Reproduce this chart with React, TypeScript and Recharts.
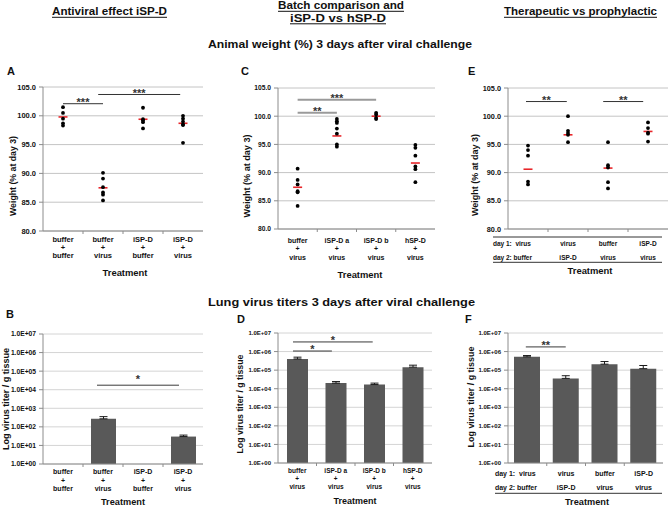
import React from "react";
import {
  ScatterChart,
  Scatter,
  ComposedChart,
  Bar,
  ErrorBar,
  XAxis,
  YAxis,
  CartesianGrid,
  ReferenceLine,
  ReferenceDot,
} from "recharts";

const FONT = '"Liberation Sans", Arial, Helvetica, sans-serif';
const AXIS = "#8c8c8c";
const INK = "#111";

// ---- weight at day 3 (top row) ----
const weightTicks = [80, 85, 90, 95, 100, 105];

const catsA = [
  ["buffer", "+", "buffer"],
  ["buffer", "+", "virus"],
  ["iSP-D", "+", "buffer"],
  ["iSP-D", "+", "virus"],
];
const weightA = [
  [101.5, 100.5, 99.5, 98.7, 98.3],
  [90.1, 89.1, 87.6, 86.7, 86.3, 85.3],
  [101.4, 99.4, 99.2, 98.9, 97.8],
  [100.0, 99.5, 99.0, 98.5, 98.4, 95.3],
];
const meanA = [99.8, 87.5, 99.4, 98.7];
const sigA = [
  { from: 1, to: 2, y: 102.1, text: "***" },
  { from: 1.88, to: 3.93, y: 103.7, text: "***" },
];

const catsC = [
  ["buffer", "+", "virus"],
  ["iSP-D a", "+", "virus"],
  ["iSP-D b", "+", "virus"],
  ["hSP-D", "+", "virus"],
];
const weightC = [
  [90.7, 88.7, 87.9, 86.7, 86.5, 84.1],
  [99.5, 99.1, 98.8, 97.8, 96.9, 95.0, 94.6],
  [100.6, 100.3, 99.7, 99.5],
  [94.9, 94.4, 93.0, 91.1, 90.6, 88.3],
];
const meanC = [87.4, 96.5, 100.0, 91.7];
const sigC = [
  { from: 1, to: 2, y: 100.6, text: "**" },
  { from: 1, to: 3, y: 102.9, text: "***" },
];

const rowLabels = ["day 1:", "day 2:"];
const day1 = ["virus", "virus", "buffer", "iSP-D"];
const day2 = ["buffer", "iSP-D", "virus", "virus"];
const weightE = [
  [94.8, 94.0, 93.0, 88.4, 87.9],
  [100.0, 97.4, 97.0, 96.7, 95.4],
  [95.4, 91.3, 90.9, 88.3, 87.2],
  [98.9, 97.9, 97.1, 96.9, 95.5],
];
const meanE = [90.6, 96.7, 90.8, 97.3];
const sigE = [
  { from: 0.95, to: 1.97, y: 102.6, text: "**" },
  { from: 2.88, to: 3.88, y: 102.6, text: "**" },
];

// ---- lung virus titers (bottom row) ----
const titerTicks = [1, 10, 100, 1e3, 1e4, 1e5, 1e6, 1e7];

const titerB = [null, 270, null, 30];
const titerErrB = [null, 85, null, 6];
const sigB = [{ from: 1.85, to: 3.9, y: 1.75e4, text: "*" }];

const titerD = [4.0e5, 2.0e4, 1.67e4, 1.45e5];
const titerErrD = [1.0e5, 4.3e3, 3.3e3, 4.0e4];
const sigD = [
  { from: 0.89, to: 1.9, y: 1.07e6, text: "*" },
  { from: 0.89, to: 2.96, y: 3.3e6, text: "*" },
];

const titerF = [5.2e5, 3.6e4, 2.1e5, 1.2e5];
const titerErrF = [0.9e5, 1.4e4, 0.8e5, 0.58e5];
const sigF = [{ from: 0.96, to: 1.99, y: 1.78e6, text: "**" }];

type Sig = { from: number; to: number; y: number; text: string };
type Box = { left: number; top: number; width: number; height: number };

const fmtExp = (v: number) =>
  `1.0E+${String(Math.round(Math.log10(v))).padStart(2, "0")}`;

const Dot = (p: any) => <circle cx={p.cx} cy={p.cy} r={1.9} fill="#000" />;
const MeanMark = (p: any) => (
  <line x1={p.cx - 4.5} x2={p.cx + 4.5} y1={p.cy} y2={p.cy} stroke="#e8262a" strokeWidth={1.6} />
);

function stackedTick(cats: string[][], bw: number, size: number, first: number, gap: number) {
  return (p: any) => {
    const lines = cats[p.index] ?? [];
    return (
      <g>
        {p.index < 3 && (
          <line x1={p.x + bw / 2} x2={p.x + bw / 2} y1={p.y} y2={p.y + 3} stroke={AXIS} />
        )}
        <text textAnchor="middle" fontFamily={FONT} fontSize={size} fontWeight={700} fill={INK}>
          {lines.map((l, k) => (
            <tspan key={k} x={p.x} y={p.y + first + k * gap}>
              {l}
            </tspan>
          ))}
        </text>
      </g>
    );
  };
}

function tableTick(bw: number, size: number, r1: number, r2: number, shift: number) {
  return (p: any) => {
    const i = p.index;
    const first = i === 0;
    const common = {
      fontFamily: FONT,
      fontSize: size,
      fontWeight: 700,
      fill: INK,
      textAnchor: first ? "start" : "middle",
      style: { whiteSpace: "pre" },
    } as any;
    const x = first ? p.x + shift : p.x;
    return (
      <g>
        {i < 3 && <line x1={p.x + bw / 2} x2={p.x + bw / 2} y1={p.y} y2={p.y + 3} stroke={AXIS} />}
        <text x={x} y={p.y + r1} {...common}>
          {first ? `${rowLabels[0]}  ${day1[i]}` : day1[i]}
        </text>
        <text x={x} y={p.y + r2} {...common}>
          {first ? `${rowLabels[1]} ${day2[i]}` : day2[i]}
        </text>
      </g>
    );
  };
}

function sigMarks(sigs: Sig[], stroke: string, width: number, dy: number) {
  return [
    ...sigs.map((s, i) => (
      <ReferenceLine
        key={`l${i}`}
        segment={[
          { x: s.from, y: s.y },
          { x: s.to, y: s.y },
        ]}
        stroke={stroke}
        strokeWidth={width}
      />
    )),
    ...sigs.map((s, i) => (
      <ReferenceDot
        key={`t${i}`}
        x={(s.from + s.to) / 2}
        y={s.y}
        shape={(p: any) => (
          <text x={p.cx} y={p.cy + dy} textAnchor="middle" fontFamily={FONT} fontSize={11} fontWeight={700} fill="#333">
            {s.text}
          </text>
        )}
      />
    )),
  ];
}

function WeightPanel(props: {
  box: Box;
  yw: number;
  mr: number;
  mt: number;
  ph: number;
  groups: number[][];
  means: number[];
  sigs: Sig[];
  sigStroke: string;
  sigWidth: number;
  sigDy: number;
  yFont: number;
  tick: (bw: number) => (p: any) => React.ReactElement;
}) {
  const { box, yw, mr, mt, ph } = props;
  const points = props.groups.flatMap((vals, i) => vals.map((w) => ({ g: i + 1, w })));
  const meanPts = props.means.map((w, i) => ({ g: i + 1, w }));
  const bw = (box.width - yw - mr) / 4;
  return (
    <div style={{ position: "absolute", left: box.left, top: box.top }}>
      <ScatterChart width={box.width} height={box.height} margin={{ top: mt, right: mr, left: 0, bottom: 0 }}>
        <CartesianGrid vertical={false} stroke="#c4c4c4" />
        <XAxis
          type="number"
          dataKey="g"
          domain={[0.5, 4.5]}
          allowDataOverflow
          ticks={[1, 2, 3, 4]}
          interval={0}
          height={box.height - mt - ph}
          tickSize={0}
          tickMargin={0}
          tickLine={false}
          stroke={AXIS}
          tick={props.tick(bw)}
        />
        <YAxis
          type="number"
          dataKey="w"
          domain={[80, 105]}
          allowDataOverflow
          ticks={weightTicks}
          interval={0}
          width={yw}
          tickSize={4}
          tickMargin={3}
          stroke={AXIS}
          tickFormatter={(v: number) => v.toFixed(1)}
          tick={{ fontSize: props.yFont, fill: INK, fontWeight: 700, fontFamily: FONT }}
        />
        {sigMarks(props.sigs, props.sigStroke, props.sigWidth, props.sigDy)}
        <Scatter data={meanPts} shape={MeanMark} isAnimationActive={false} />
        <Scatter data={points} shape={Dot} isAnimationActive={false} />
      </ScatterChart>
    </div>
  );
}

function TiterPanel(props: {
  box: Box;
  yw: number;
  mr: number;
  mt: number;
  ph: number;
  values: (number | null)[];
  errs: (number | null)[];
  sigs: Sig[];
  sigDy: number;
  barSize: number;
  yFont: number;
  tick: (bw: number) => (p: any) => React.ReactElement;
}) {
  const { box, yw, mr, mt, ph } = props;
  const rows = props.values.map((v, i) => ({
    pos: i + 1,
    titer: v,
    err: props.errs[i] == null ? null : [0, props.errs[i]],
  }));
  const bw = (box.width - yw - mr) / 4;
  return (
    <div style={{ position: "absolute", left: box.left, top: box.top }}>
      <ComposedChart
        width={box.width}
        height={box.height}
        data={rows}
        barSize={props.barSize}
        margin={{ top: mt, right: mr, left: 0, bottom: 0 }}
      >
        <CartesianGrid vertical={false} stroke="#d4d4d4" />
        <XAxis
          dataKey="pos"
          type="number"
          domain={[0.5, 4.5]}
          allowDataOverflow
          ticks={[1, 2, 3, 4]}
          interval={0}
          height={box.height - mt - ph}
          tickSize={0}
          tickMargin={0}
          tickLine={false}
          stroke={AXIS}
          tick={props.tick(bw)}
        />
        <YAxis
          type="number"
          scale="log"
          domain={[1, 1e7]}
          allowDataOverflow
          ticks={titerTicks}
          interval={0}
          width={yw}
          tickSize={4}
          tickMargin={3}
          stroke={AXIS}
          tickFormatter={fmtExp}
          tick={{ fontSize: props.yFont, fill: INK, fontWeight: 700, fontFamily: FONT }}
        />
        <Bar dataKey="titer" fill="#595959" isAnimationActive={false}>
          <ErrorBar dataKey="err" width={4} stroke="#1a1a1a" strokeWidth={1} direction="y" />
        </Bar>
        {sigMarks(props.sigs, "#3a3a3a", 1, props.sigDy)}
      </ComposedChart>
    </div>
  );
}

function Txt(p: {
  x: number;
  y: number;
  len?: number;
  size: number;
  text: string;
  anchor?: "start" | "middle";
  rotate?: boolean;
  underline?: boolean;
}) {
  const anchor = p.anchor ?? "middle";
  const t = (
    <text
      x={p.x}
      y={p.y}
      fontSize={p.size}
      fontWeight={700}
      fill={INK}
      textAnchor={anchor}
      dominantBaseline={p.rotate ? "central" : undefined}
      textLength={p.len}
      lengthAdjust="spacingAndGlyphs"
      transform={p.rotate ? `rotate(-90 ${p.x} ${p.y})` : undefined}
    >
      {p.text}
    </text>
  );
  if (!p.underline || !p.len) return t;
  const x0 = anchor === "start" ? p.x : p.x - p.len / 2;
  return (
    <g>
      {t}
      <line x1={x0} x2={x0 + p.len} y1={p.y + 2.3} y2={p.y + 2.3} stroke={INK} strokeWidth={1} />
    </g>
  );
}

export default function App() {
  return (
    <div
      style={{
        position: "absolute",
        left: 0,
        top: 0,
        width: 669,
        height: 506,
        background: "#fff",
        overflow: "hidden",
        fontFamily: FONT,
      }}
    >
      <WeightPanel
        box={{ left: 0, top: 60, width: 215, height: 220 }}
        yw={43}
        mr={12}
        mt={27}
        ph={144}
        groups={weightA}
        means={meanA}
        sigs={sigA}
        sigStroke="#333"
        sigWidth={1}
        sigDy={2.5}
        yFont={7.5}
        tick={(bw) => stackedTick(catsA, bw, 7.5, 10.5, 8)}
      />
      <WeightPanel
        box={{ left: 230, top: 60, width: 215, height: 220 }}
        yw={48}
        mr={10}
        mt={28}
        ph={141}
        groups={weightC}
        means={meanC}
        sigs={sigC}
        sigStroke="#9a9a9a"
        sigWidth={2}
        sigDy={2}
        yFont={6.7}
        tick={(bw) => stackedTick(catsC, bw, 7, 13.5, 8.5)}
      />
      <WeightPanel
        box={{ left: 460, top: 60, width: 209, height: 220 }}
        yw={48}
        mr={1}
        mt={28}
        ph={141}
        groups={weightE}
        means={meanE}
        sigs={sigE}
        sigStroke="#333"
        sigWidth={1}
        sigDy={2}
        yFont={7.3}
        tick={(bw) => tableTick(bw, 6.5, 17, 30.5, -35)}
      />
      <TiterPanel
        box={{ left: 0, top: 320, width: 215, height: 186 }}
        yw={43}
        mr={12}
        mt={14}
        ph={130}
        values={titerB}
        errs={titerErrB}
        sigs={sigB}
        sigDy={-2}
        barSize={25}
        yFont={6.7}
        tick={(bw) => stackedTick(catsA, bw, 7, 10.2, 8.3)}
      />
      <TiterPanel
        box={{ left: 230, top: 320, width: 215, height: 186 }}
        yw={48}
        mr={13}
        mt={13}
        ph={130}
        values={titerD}
        errs={titerErrD}
        sigs={sigD}
        sigDy={2}
        barSize={21}
        yFont={6}
        tick={(bw) => stackedTick(catsC, bw, 6.5, 10, 8)}
      />
      <TiterPanel
        box={{ left: 460, top: 320, width: 209, height: 186 }}
        yw={48}
        mr={6}
        mt={13}
        ph={130}
        values={titerF}
        errs={titerErrF}
        sigs={sigF}
        sigDy={2}
        barSize={26}
        yFont={6}
        tick={(bw) => tableTick(bw, 7, 13, 26.5, -32.5)}
      />

      <svg
        width={669}
        height={506}
        style={{ position: "absolute", left: 0, top: 0, pointerEvents: "none" }}
        fontFamily={FONT}
      >
        <Txt x={52} y={15} len={115} size={11} text="Antiviral effect iSP-D" anchor="start" underline />
        <Txt x={278} y={9} len={126} size={11} text="Batch comparison and" anchor="start" underline />
        <Txt x={290} y={21.5} len={96} size={11} text="iSP-D vs hSP-D" anchor="start" underline />
        <Txt x={504} y={15} len={153} size={11} text="Therapeutic vs prophylactic" anchor="start" underline />
        <Txt x={208} y={48} len={264} size={11.5} text="Animal weight (%) 3 days after viral challenge" anchor="start" />
        <Txt x={208} y={306} len={267} size={11.5} text="Lung virus titers 3 days after viral challenge" anchor="start" />

        <Txt x={7} y={75} size={11} text="A" anchor="start" />
        <Txt x={241} y={75} size={11} text="C" anchor="start" />
        <Txt x={468} y={75} size={11} text="E" anchor="start" />
        <Txt x={6} y={318} size={11} text="B" anchor="start" />
        <Txt x={237} y={323} size={11} text="D" anchor="start" />
        <Txt x={465} y={323} size={11} text="F" anchor="start" />

        <Txt x={12.5} y={176} len={80} size={9.5} text="Weight  (% at day 3)" rotate />
        <Txt x={246} y={176} len={83} size={9.5} text="Weight  (% at day 3)" rotate />
        <Txt x={474} y={175} len={82} size={9.5} text="Weight  (% at day 3)" rotate />
        <Txt x={5.5} y={399} len={102} size={9.5} text="Log virus titer / g tissue" rotate />
        <Txt x={239} y={404} len={99} size={9.5} text="Log virus titer / g tissue" rotate />
        <Txt x={470} y={397} len={101} size={9.5} text="Log virus titer / g tissue" rotate />

        <Txt x={125} y={275.5} len={45} size={9.5} text="Treatment" />
        <Txt x={360} y={277.5} len={45} size={9.5} text="Treatment" />
        <Txt x={590} y={273.5} len={45} size={9.5} text="Treatment" />
        <Txt x={123} y={505} len={44} size={9.5} text="Treatment" />
        <Txt x={355} y={504} len={43} size={9.5} text="Treatment" />
        <Txt x={587} y={505} len={44} size={9.5} text="Treatment" />

        <line x1={493} x2={662} y1={237} y2={237} stroke="#333" strokeWidth={1} />
        <line x1={493} x2={662} y1={262.3} y2={262.3} stroke="#333" strokeWidth={1} />
        <line x1={495} x2={662} y1={493.3} y2={493.3} stroke="#333" strokeWidth={1} />
      </svg>
    </div>
  );
}
